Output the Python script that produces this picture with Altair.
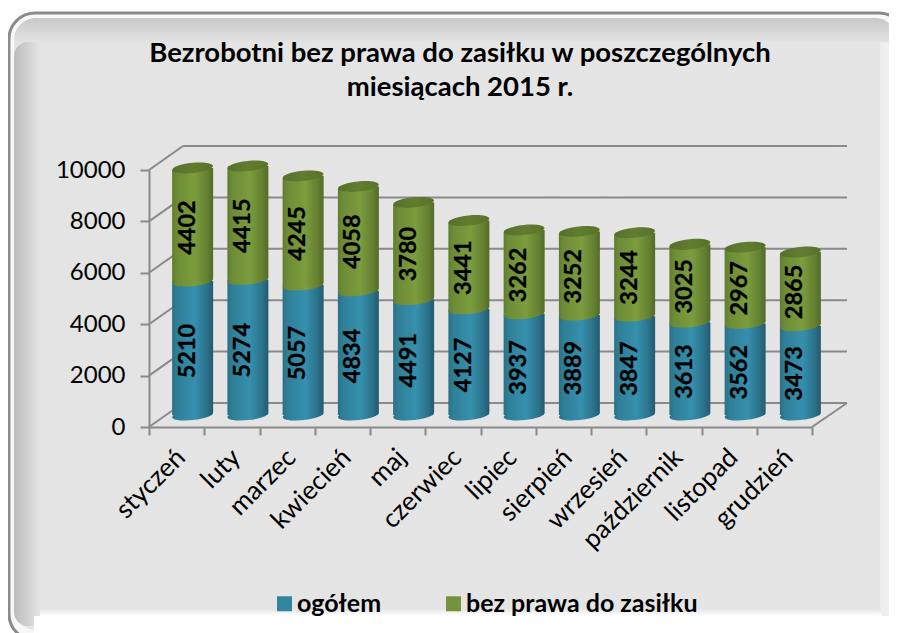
import altair as alt
import pandas as pd

months = ["styczeń","luty","marzec","kwiecień","maj","czerwiec","lipiec","sierpień","wrzesień","październik","listopad","grudzień"]
ogolem = [5210,5274,5057,4834,4491,4127,3937,3889,3847,3613,3562,3473]
bez = [4402,4415,4245,4058,3780,3441,3262,3252,3244,3025,2967,2865]
S1, S2 = "ogółem", "bez prawa do zasiłku"
title_lines = ["Bezrobotni bez prawa do zasiłku w poszczególnych","miesiącach 2015 r."]
ticks = [0,2000,4000,6000,8000,10000]
FONT = "Lato"
W, H = 663, 257
L, T = 141, 162
DOM = alt.Scale(domain=[0,10000], nice=False)

df = pd.DataFrame({"m": months, "a": ogolem, "b": bez})
df["t"] = df.a + df.b
df["zero"] = 0
long = pd.concat([
    pd.DataFrame({"m": months, "s": S1, "y0": 0, "y1": ogolem, "v": ogolem}),
    pd.DataFrame({"m": months, "s": S2, "y0": ogolem, "y1": list(df.t), "v": bez}),
])
long["mid"] = (long.y0 + long.y1) / 2
grid = pd.DataFrame({"v": ticks})
grid["back"] = grid.v + 934

yaxis = alt.Axis(values=ticks, format="d", labelFont=FONT, labelFontSize=24, labelColor="#000", labelPadding=15, title=None,
                 tickSize=9, tickColor="#8a8a8a", tickWidth=2, domainColor="#8a8a8a", domainWidth=2,
                 grid=False, zindex=1)
xs = alt.X("m:N", sort=months, title=None, scale=alt.Scale(paddingInner=0, paddingOuter=0, round=False),
           axis=alt.Axis(tickBand="extent", labelAngle=315, labelFont=FONT, labelFontSize=26, labelColor="#000",
                         labelPadding=18, labelOffset=4, tickSize=8, tickColor="#8a8a8a", tickWidth=2, domainColor="#8a8a8a",
                         domainWidth=2, labelAlign="right", labelBaseline="middle", grid=False, zindex=1))

def lg(stops, horizontal=True):
    return alt.LinearGradient(gradient="linear", stops=[alt.GradientStop(offset=o, color=c) for o, c in stops],
                              x1=0, x2=1 if horizontal else 0, y1=0, y2=0 if horizontal else 1)

def panel(x0, y0, x1, y1, r, **kw):
    return alt.Chart(pd.DataFrame({"k":[0]})).mark_rect(cornerRadius=r, **kw).encode(
        x=alt.value(x0-8-L), x2=alt.value(x1-8-L), y=alt.value(y0-8-T), y2=alt.value(y1-8-T))

vgrad = lg([(0,"#c8c8c8"),(0.04,"#e3e3e3"),(1,"#e5e5e5")], False)
hgrad = lg([(0,"#bcbcbc"),(0.03,"#e4e4e4"),(0.98,"#e5e5e5"),(0.981,"#ececec"),(1,"#f4f4f4")])
fade = lg([(0,"#e5e5e5"),(1,"#ffffff")], False)

bg = [
    panel(9, 13, 905, 640, 26, fill="#f8f8f8", stroke="#8c8c8c", strokeWidth=3),
    panel(14, 18, 897, 630, 22, color=vgrad),
    panel(14, 42, 897, 626, 14, color=hgrad),
    panel(34, 616, 897, 633, 0, color="#ffffff"),
    panel(40, 609, 882, 616, 0, color=fade),
]

rule = alt.Chart(grid).mark_rule(color="#8a8a8a", strokeWidth=2)
walls = [
    rule.encode(x=alt.value(0), x2=alt.value(34), y=alt.Y("v:Q", scale=DOM, axis=yaxis), y2="back:Q"),
    rule.encode(x=alt.value(34), x2=alt.value(W+35), y=alt.Y("back:Q", scale=DOM, axis=yaxis)),
    alt.Chart(pd.DataFrame({"v":[0],"back":[934]})).mark_rule(color="#8a8a8a", strokeWidth=2).encode(
        x=alt.value(W), x2=alt.value(W+35), y=alt.Y("v:Q", scale=DOM, axis=yaxis), y2="back:Q"),
]

BX, BY, BW = 16, -12, 41
plain = alt.Chart(long).mark_bar(size=BW-2, xOffset=BX, yOffset=BY, y2Offset=BY).encode(
    x=xs, y=alt.Y("y0:Q", scale=DOM, axis=yaxis),
    y2="y1:Q",
    color=alt.Color("s:N", scale=alt.Scale(domain=[S1,S2], range=["#31859c","#76923c"]),
                    legend=alt.Legend(orient="none", legendX=273-8-L-1, legendY=591-8-T, direction="horizontal", title=None,
                                      symbolType="square", symbolSize=225, symbolStrokeWidth=0, symbolOpacity=1,
                                      labelFont=FONT, labelFontWeight="bold", labelFontSize=25, labelColor="#000",
                                      columnPadding=59, labelOffset=0, labelLimit=400)))

blue_g = lg([(0,"#2a7088"),(0.12,"#2f7f98"),(0.55,"#3690ad"),(0.85,"#2b718a"),(1,"#235a70")])
green_g = lg([(0,"#607d30"),(0.12,"#6d8c37"),(0.55,"#7c9c3d"),(0.85,"#648031"),(1,"#546b29")])
top_g = lg([(0,"#56702a"),(0.5,"#627d31"),(1,"#587229")])
ELL = "M -1 0 A 1 0.25 0 1 1 1 0 A 1 0.25 0 1 1 -1 0 Z"

def cyl(y0, y1, grad, **kw):
    return alt.Chart(df).mark_bar(size=BW, xOffset=BX, yOffset=BY, y2Offset=BY, color=grad, **kw).encode(
        x=alt.X("m:N", sort=months), y=alt.Y(f"{y0}:Q"), y2=f"{y1}:Q")

def ell(field, grad):
    return alt.Chart(df).mark_point(shape=ELL, size=BW*BW, filled=True, fill=grad, opacity=1, strokeWidth=0,
                                    angle=354, xOffset=BX, yOffset=BY).encode(
        x=alt.X("m:N", sort=months), y=alt.Y(f"{field}:Q"))

cyls = [
    ell("zero", blue_g),
    cyl("zero", "a", blue_g, cornerRadiusBottomRight=3),
    cyl("a", "t", green_g, cornerRadiusTopLeft=3, cornerRadiusBottomRight=3),
    ell("a", green_g),
    ell("t", top_g),
]

labels = alt.Chart(long).mark_text(font=FONT, fontWeight="bold", fontSize=23.5, angle=270, color="#000",
                                   stroke="#000", strokeWidth=0.3,
                                   xOffset=BX-5, yOffset=BY+3, baseline="middle", align="center").encode(
    x=alt.X("m:N", sort=months), y=alt.Y("mid:Q"), text=alt.Text("v:Q", format="d"))

def title_text(line, ycenter):
    return alt.Chart(pd.DataFrame({"line":[line]})).mark_text(font=FONT, fontSize=27.5, fontWeight="bold", color="#000",
                                                              align="center", baseline="middle").encode(
        x=alt.value(460-8-L), y=alt.value(ycenter-8-T), text="line:N")

titles = [title_text(title_lines[0], 54), title_text(title_lines[1], 88)]

chart = alt.layer(*bg, *walls, plain, *cyls, labels, *titles).properties(
    width=W, height=H,
    padding={"left":L, "top":T, "right":881-L-W, "bottom":625-T-H},
    autosize=alt.AutoSizeParams(type="none"),
    background="#ffffff",
).configure_view(stroke=None)

chart.save("out.html", embed_options={"renderer": "svg", "actions": False})
